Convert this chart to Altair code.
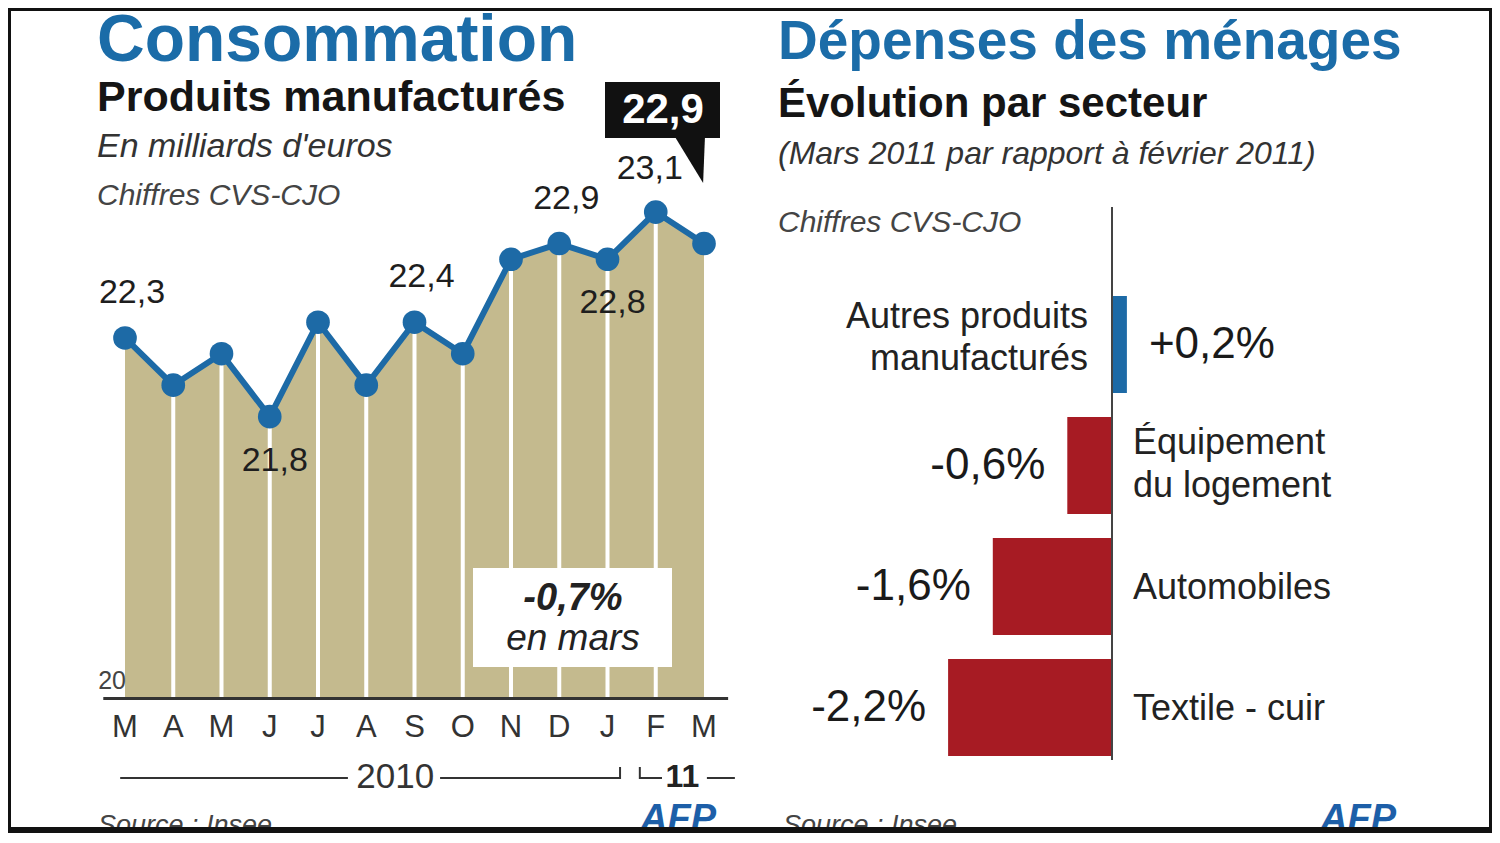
import altair as alt
import pandas as pd

# ---------------- data ----------------
mois = ["M", "A", "M", "J", "J", "A", "S", "O", "N", "D", "J", "F", "M"]
valeurs = [22.3, 22.0, 22.2, 21.8, 22.4, 22.0, 22.4, 22.2, 22.8, 22.9, 22.8, 23.1, 22.9]
position_etiquette = ["haut", "", "", "bas", "", "", "haut", "", "", "haut", "bas", "haut", ""]

secteurs = ["Autres produits manufacturés", "Équipement du logement", "Automobiles", "Textile - cuir"]
noms = ["Autres produits\nmanufacturés", "Équipement\ndu logement", "Automobiles", "Textile - cuir"]
variations = [0.2, -0.6, -1.6, -2.2]

BLUE = "#1d6aa6"
TITLE_BLUE = "#1b6ca8"
RED = "#a71b23"
KHAKI = "#c4ba8e"
FONT = "Liberation Sans"

WL, WR, H = 760, 724, 825

# scale geometry (pixels)
XL_RANGE = [117, 696]
YL_RANGE = [692, 62.4]
XR_RANGE = [120.5, 418.5]

def px(i):  # left x position for decorations
    return XL_RANGE[0] + (XL_RANGE[1] - XL_RANGE[0]) * i / 12

def fr(v, signe=False):
    s = f"{v:+.1f}" if signe else f"{v:.1f}"
    return s.replace(".", ",")

df = pd.DataFrame({"idx": list(range(len(mois))), "mois": mois,
                   "valeur": valeurs, "pos": position_etiquette})
df["etiquette"] = [fr(v) for v in valeurs]
df["base"] = 20

dfR = pd.DataFrame({"secteur": secteurs, "nom": noms, "variation": variations})
dfR["texte"] = [(fr(v, True) if v > 0 else fr(v)) + "%" for v in variations]
dfR["zero"] = 0
dfR["signe"] = ["pos" if v > 0 else "neg" for v in variations]

one = pd.DataFrame({"k": [0]})
deco = alt.Chart(one)

def txt(s, x, y, size, color="#111", weight="normal", style="normal", font=FONT, align="left",
        baseline="alphabetic"):
    return deco.mark_text(text=s, font=font, fontSize=size, fontWeight=weight, fontStyle=style,
                          color=color, align=align, baseline=baseline, clip=True).encode(
        x=alt.value(x), y=alt.value(y))

def hrule(x1, x2, y, w=2, color="#333"):
    return deco.mark_rule(color=color, strokeWidth=w, clip=True).encode(
        x=alt.value(x1), x2=alt.value(x2), y=alt.value(y))

def vrule(x, y1, y2, w=2, color="#333"):
    return deco.mark_rule(color=color, strokeWidth=w, clip=True).encode(
        x=alt.value(x), y=alt.value(y1), y2=alt.value(y2))

def frame(w, left_edge, right_edge):
    parts = [hrule(0, w, 1.5, 3, "#111"), hrule(0, w, H - 3, 6, "#111")]
    if left_edge:
        parts.append(vrule(1.5, 0, H, 3, "#111"))
    if right_edge:
        parts.append(vrule(w - 1.5, 0, H, 3, "#111"))
    return parts

# ---------------- left panel ----------------
xL = alt.X("idx:Q", scale=alt.Scale(domain=[0, 12], range=XL_RANGE, nice=False, zero=False), axis=None)
yL = alt.Y("valeur:Q", scale=alt.Scale(domain=[20, 24], range=YL_RANGE, nice=False, zero=False), axis=None)

base = alt.Chart(df)
area = base.mark_area(color=KHAKI).encode(x=xL, y=yL, y2=alt.Y2("base"))
seps = base.transform_filter("datum.idx > 0 && datum.idx < 12").mark_rule(
    color="white", strokeWidth=4).encode(x=xL, y=yL, y2=alt.Y2("base"))
line = base.mark_line(color=BLUE, strokeWidth=6).encode(x=xL, y=yL)
pts = base.mark_circle(color=BLUE, size=560, opacity=1).encode(x=xL, y=yL)
lab_up = base.transform_filter("datum.pos == 'haut' && datum.idx != 11").mark_text(
    font=FONT, fontSize=34, color="#1e1e1e", dx=7, dy=-45, baseline="middle").encode(
    x=xL, y=yL, text="etiquette:N")
lab_f = base.transform_filter("datum.pos == 'haut' && datum.idx == 11").mark_text(
    font=FONT, fontSize=34, color="#1e1e1e", dx=-6, dy=-43, baseline="middle").encode(
    x=xL, y=yL, text="etiquette:N")
lab_dn = base.transform_filter("datum.pos == 'bas'").mark_text(
    font=FONT, fontSize=34, color="#1e1e1e", dx=5, dy=44, baseline="middle").encode(
    x=xL, y=yL, text="etiquette:N")
month_lab = base.mark_text(font=FONT, fontSize=31, color="#333", baseline="middle").encode(
    x=xL, y=alt.value(720), text="mois:N")

yb = 690.5
left_deco = [
    hrule(px(-0.45), px(12.5), yb, 3),
    txt("20", px(0) + 1, 681, 25, "#444", align="right"),
    hrule(px(-0.1), px(4.62), 770), hrule(px(6.53), px(10.26), 770),
    vrule(px(10.26), 759, 771), vrule(px(10.67), 759, 771),
    hrule(px(10.67), px(11.13), 770), hrule(px(12.06), px(12.64), 770),
    txt("2010", px(5.6), 769, 35, "#333", align="center", baseline="middle"),
    txt("11", px(11.55), 769, 32, "#222", "bold", align="center", baseline="middle"),
    # box "-0,7% en mars"
    deco.mark_rect(color="white").encode(x=alt.value(465), x2=alt.value(664),
                                         y=alt.value(560), y2=alt.value(659)),
    txt("-0,7%", 565, 591, 38, "#222", "bold", "italic", align="center", baseline="middle"),
    txt("en mars", 565, 631, 37, "#222", style="italic", align="center", baseline="middle"),
    # callout
    deco.mark_rect(color="#111").encode(x=alt.value(597), x2=alt.value(712),
                                        y=alt.value(74), y2=alt.value(130)),
    deco.mark_point(shape="M -0.65 -1 L 0.65 -1 L 0.57 1 Z", filled=True, color="#111",
                    size=2116, opacity=1).encode(x=alt.value(682), y=alt.value(152)),
]
call_txt = alt.Chart(df).transform_filter("datum.idx == 12").mark_text(
    font=FONT, fontSize=42, fontWeight="bold", color="white", baseline="middle").encode(
    x=alt.value(655), y=alt.value(102), text="etiquette:N")

titles_left = [
    txt("Consommation", 89, 53, 66, TITLE_BLUE, "bold"),
    txt("Produits manufacturés", 89, 103, 43, "#151515", "bold"),
    txt("En milliards d'euros", 89, 149, 34, "#333", style="italic"),
    txt("Chiffres CVS-CJO", 89, 197, 30, "#444", style="italic"),
    txt("Source : Insee", 90, 826, 27, "#444", style="italic"),
    txt("AFP", 632, 823, 38, "#1d5fa8", "bold", "italic"),
]

left = alt.layer(area, seps, line, pts, lab_up, lab_f, lab_dn, month_lab, *left_deco, call_txt,
                 *titles_left, *frame(WL, True, False)).properties(width=WL, height=H)

# ---------------- right panel ----------------
xR = alt.X("variation:Q", scale=alt.Scale(domain=[-3, 1], range=XR_RANGE, nice=False, zero=False),
           axis=None)
yR = alt.Y("secteur:N", scale=alt.Scale(domain=secteurs, range=[276, 760], paddingInner=0.2,
                                        paddingOuter=0.1), axis=None)
x0 = XR_RANGE[0] + (XR_RANGE[1] - XR_RANGE[0]) * 3 / 4  # pixel of 0 %

rb = alt.Chart(dfR)
bars = rb.mark_bar().encode(
    x=xR, x2=alt.X2("zero"), y=yR,
    color=alt.Color("signe:N", scale=alt.Scale(domain=["pos", "neg"], range=[BLUE, RED]), legend=None))
zero = vrule(x0, 199, 752, 2, "#444")
val_pos = rb.transform_filter("datum.variation > 0").mark_text(
    font=FONT, fontSize=44, color="#1a1a1a", align="left", dx=22, baseline="middle").encode(
    x=xR, y=yR, text="texte:N")
val_neg = rb.transform_filter("datum.variation <= 0").mark_text(
    font=FONT, fontSize=44, color="#1a1a1a", align="right", dx=-22, baseline="middle").encode(
    x=xR, y=yR, text="texte:N")
MULTI = "indexof(datum.nom, '\\n') >= 0"
cat_pos = rb.transform_filter("datum.variation > 0").mark_text(
    font=FONT, fontSize=36, color="#222", align="right", dx=-24, dy=-28, baseline="middle",
    lineBreak="\n", lineHeight=42).encode(x=alt.value(x0), y=yR, text="nom:N")
cat_neg_multi = rb.transform_filter(f"datum.variation <= 0 && {MULTI}").mark_text(
    font=FONT, fontSize=36, color="#222", align="left", dx=21, dy=-23, baseline="middle",
    lineBreak="\n", lineHeight=43).encode(x=alt.value(x0), y=yR, text="nom:N")
cat_neg_single = rb.transform_filter(f"datum.variation <= 0 && !({MULTI})").mark_text(
    font=FONT, fontSize=36, color="#222", align="left", dx=21, dy=1, baseline="middle").encode(
    x=alt.value(x0), y=yR, text="nom:N")

titles_right = [
    txt("Dépenses des ménages", 10, 51, 55, TITLE_BLUE, "bold"),
    txt("Évolution par secteur", 10, 109, 42, "#151515", "bold"),
    txt("(Mars 2011 par rapport à février 2011)", 10, 156, 32, "#333", style="italic"),
    txt("Chiffres CVS-CJO", 10, 224, 30, "#444", style="italic"),
    txt("Source : Insee", 15, 826, 27, "#444", style="italic"),
    txt("AFP", 552, 823, 38, "#1d5fa8", "bold", "italic"),
]

right = alt.layer(bars, zero, val_pos, val_neg, cat_pos, cat_neg_multi, cat_neg_single,
                  *titles_right, *frame(WR, False, True)).properties(width=WR, height=H)

chart = alt.hconcat(left, right, spacing=0).properties(
    background="white", padding=0
).configure_view(stroke=None)

chart.save("out.html", embed_options={"renderer": "svg", "actions": False})
